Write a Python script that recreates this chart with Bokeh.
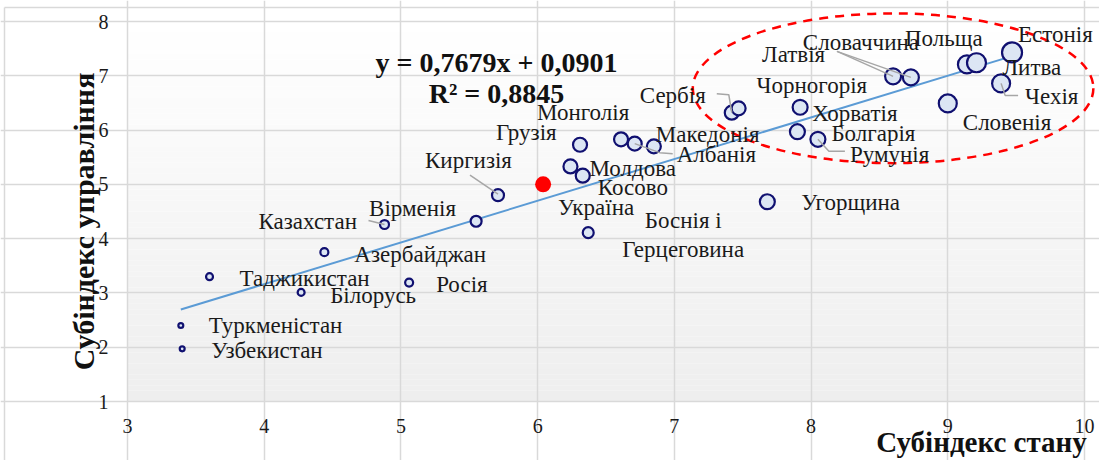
import numpy as np
from bokeh.plotting import figure
from bokeh.models import Range1d, FixedTicker, ColumnDataSource
from bokeh.embed import file_html
from bokeh.resources import INLINE
from bokeh.core.properties import value

# ---------------- data ----------------
countries = ["Туркменістан", "Узбекистан", "Таджикистан", "Білорусь", "Азербайджан",
             "Росія", "Казахстан", "Вірменія", "Киргизія", "Україна",
             "Боснія і\nГерцеговина", "Молдова", "Косово", "Грузія", "Монголія",
             "Албанія", "Македонія", "Угорщина", "Сербія", "Чорногорія",
             "Хорватія", "Болгарія", "Румунія", "Латвія", "Словаччина",
             "Польща", "Литва", "Естонія", "Чехія", "Словенія"]
state_index = [3.39, 3.40, 3.60, 4.27, 4.44,
               5.06, 4.88, 5.55, 5.71, 6.04,
               6.37, 6.24, 6.33, 6.31, 6.61,
               6.71, 6.85, 7.68, 7.42, 7.47,
               7.92, 7.90, 8.05, 8.60, 8.73,
               9.14, 9.21, 9.47, 9.39, 9.00]
gov_index = [2.40, 1.97, 3.30, 3.01, 3.75,
             3.19, 4.26, 4.32, 4.80, 5.00,
             4.11, 5.33, 5.16, 5.73, 5.83,
             5.75, 5.70, 4.68, 6.32, 6.40,
             6.42, 5.97, 5.83, 6.99, 6.97,
             7.21, 7.24, 7.43, 6.86, 6.49]
bubble = [12, 12, 20, 20, 25,
          25, 30, 42, 49, 64,
          42, 64, 64, 64, 64,
          64, 64, 72, 64, 64,
          72, 72, 72, 81, 81,
          100, 110, 121, 100, 100]
highlight = "Україна"
slope, intercept, r_squared = 0.7679, 0.0901, 0.8845
x_ticks = [3, 4, 5, 6, 7, 8, 9, 10]
y_ticks = [1, 2, 3, 4, 5, 6, 7, 8]
x_title = "Субіндекс стану"
y_title = "Субіндекс управління"

# ---------------- layout (pixel offsets of labels / leaders) ----------------
label_dx = [28, 29, 30, 29, 30, 27, -126, -107, -73, 15,
            95, 19, 15, -84, -84, 42, 2, 34, -92, 18,
            12, 34, 32, -131, -108, -62, 26, 6, 24, 15]
label_dy = [0, 2, 2, 3, 2, 2, -3, -13, -35, 23,
            2, 2, 12, -12, -27, 11, -12, 1, -17, -23,
            6, 2, 15, -22, -35, -26, 5, -18, 13, 19]
label_align = ["left"] * 30
label_align[10] = "center"
leaders = {
    "Казахстан": [(-16, -4), (0, 0)],
    "Киргизія": [(-28, -20), (0, -1)],
    "Албанія": [(0, 0), (25, 9), (38, 10)],
    "Сербія": [(-15, -19), (-3, -18), (0, 0)],
    "Латвія": [(-56, -25), (0, 0)],
    "Словаччина": [(-74, -26), (0, 0)],
    "Румунія": [(0, 0), (11, 12), (27, 12)],
    "Чехія": [(0, 0), (4, 12), (17, 12)],
}

W, H = 1099, 460
OX, OY = 1, 1                # page position of canvas origin (observed)
PXX = 957 / 7.0              # px per x unit
PXY = 380 / 7.0              # px per y unit
LEFT_PX, TOP_PX = 128, 22    # page px of x=3 / y=8
x_start = 3 - (LEFT_PX - OX) / PXX
x_end = x_start + W / PXX
y_end = 8 + (TOP_PX - OY) / PXY
y_start = y_end - H / PXY


def px_x(px):
    return 3 + (px - LEFT_PX) / PXX


def px_y(py):
    return 8 - (py - TOP_PX) / PXY


FONT = "Liberation Serif"
NAVY = "#101070"
FILL = "#dce6f4"
GRID = "#d9d9d9"
TXT = "#1a1a1a"

p = figure(width=W, height=H, output_backend="svg", toolbar_location=None,
           x_range=Range1d(x_start, x_end), y_range=Range1d(y_start, y_end),
           min_border=0)
p.outline_line_color = None
p.background_fill_color = "white"
p.border_fill_color = "white"
p.axis.visible = False

# chart-area border (light gray)
p.segment(x0=[px_x(5), px_x(5)], y0=[px_y(8), px_y(8)], x1=[px_x(1110), px_x(5)],
          y1=[px_y(8), px_y(470)], line_color=GRID, line_width=1.5)

# gradient plot-area background
edges = np.linspace(1, 8, 71)
mid = (edges[:-1] + edges[1:]) / 2
shade = [int(round(238 + 17 * (m - 1) / 7)) for m in mid]
cols = ["#%02x%02x%02x" % (s, s, s) for s in shade]
p.quad(left=3, right=10, bottom=edges[:-1], top=edges[1:], fill_color=cols,
       line_color=None, level="image")

# grid
p.xgrid.ticker = FixedTicker(ticks=x_ticks)
p.ygrid.ticker = FixedTicker(ticks=y_ticks)
p.xgrid.bounds = (1, 8)
p.ygrid.bounds = (3, 10)
for g in (p.xgrid, p.ygrid):
    g.grid_line_color = GRID
    g.grid_line_width = 1.5

# tick labels
p.text(x=x_ticks, y=[px_y(426)] * len(x_ticks), text=[str(t) for t in x_ticks],
       text_font=value(FONT), text_font_size="20px", text_color=TXT,
       text_align="center", text_baseline="middle")
p.text(x=[px_x(109)] * len(y_ticks), y=y_ticks, text=[str(t) for t in y_ticks],
       text_font=value(FONT), text_font_size="20px", text_color=TXT,
       text_align="right", text_baseline="middle")

# axis titles
p.text(x=[px_x(84)], y=[px_y(222)], text=[y_title], angle=np.pi / 2,
       text_font=value(FONT), text_font_size="30px", text_font_style="bold",
       text_color="#111111", text_align="center", text_baseline="middle")
p.text(x=[px_x(982)], y=[px_y(442)], text=[x_title],
       text_font=value(FONT), text_font_size="29px", text_font_style="bold",
       text_color="#111111", text_align="center", text_baseline="middle")

# trend line
xs_t = np.array([min(state_index), max(state_index)])
p.line(xs_t, slope * xs_t + intercept, line_color="#5b9bd5", line_width=2)

# red dashed ellipse around leaders
p.ellipse(x=8.60, y=6.77, width=2.93, height=2.76, fill_color=None,
          line_color="#ff0000", line_width=2.5, line_dash="9 7")

# bubbles
reg = [i for i, c in enumerate(countries) if c != highlight]
hi = [i for i, c in enumerate(countries) if c == highlight]
src = ColumnDataSource(dict(
    x=[state_index[i] for i in reg], y=[gov_index[i] for i in reg],
    s=[2 * np.sqrt(bubble[i]) - 2 for i in reg]))
p.scatter("x", "y", size="s", source=src, fill_color=FILL, line_color=NAVY, line_width=2.2)
src_h = ColumnDataSource(dict(
    x=[state_index[i] for i in hi], y=[gov_index[i] for i in hi],
    s=[2 * np.sqrt(bubble[i]) for i in hi]))
p.scatter("x", "y", size="s", source=src_h, fill_color="#ff0000", line_color=None)

# leader lines
lx, ly = [], []
for name, pts in leaders.items():
    i = countries.index(name)
    lx.append([state_index[i] + dx / PXX for dx, dy in pts])
    ly.append([gov_index[i] - dy / PXY for dx, dy in pts])
p.multi_line(lx, ly, line_color="#a6a6a6", line_width=1.5)

# data labels
for align in ("left", "center"):
    idx = [i for i in range(len(countries)) if label_align[i] == align]
    p.text(x=[state_index[i] + label_dx[i] / PXX for i in idx],
           y=[gov_index[i] - label_dy[i] / PXY for i in idx],
           text=[countries[i] for i in idx],
           text_font=value(FONT), text_font_size="23px", text_color=TXT,
           text_align=align, text_baseline="middle", text_line_height=1.15)

# equation
eq = "y = %sx + %s" % (f"{slope:.4f}".replace(".", ","), f"{intercept:.4f}".replace(".", ","))
r2 = "R² = %s" % f"{r_squared:.4f}".replace(".", ",")
p.text(x=[px_x(497), px_x(497)], y=[px_y(63), px_y(94)], text=[eq, r2],
       text_font=value(FONT), text_font_size="28px", text_font_style="bold",
       text_color="#111111", text_align="center", text_baseline="middle")

open("out.html", "w").write(file_html(p, INLINE))
